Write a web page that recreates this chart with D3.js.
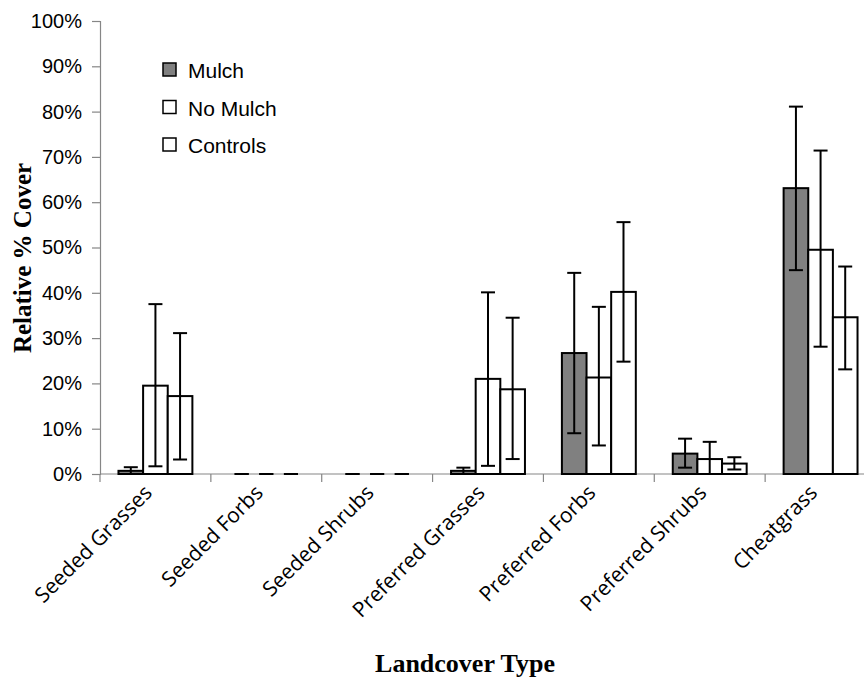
<!DOCTYPE html>
<html>
<head>
<meta charset="utf-8">
<script src="https://cdn.jsdelivr.net/npm/d3@7"></script>
<style>
  body { margin: 0; background: #fff; }
</style>
</head>
<body>
<div id="chart"></div>
<script>
const categories = ["Seeded Grasses", "Seeded Forbs", "Seeded Shrubs", "Preferred Grasses", "Preferred Forbs", "Preferred Shrubs", "Cheatgrass"];
const seriesNames = ["Mulch", "No Mulch", "Controls"];

// relative cover, fraction of 1
const mulch    = [0.007, 0, 0, 0.007, 0.267, 0.045, 0.631];
const noMulch  = [0.195, 0, 0, 0.210, 0.213, 0.033, 0.495];
const controls = [0.172, 0, 0, 0.187, 0.402, 0.023, 0.346];

// error bar ends
const mulchLow     = [0.000, 0, 0, 0.000, 0.090, 0.014, 0.450];
const mulchHigh    = [0.015, 0, 0, 0.014, 0.444, 0.078, 0.811];
const noMulchLow   = [0.017, 0, 0, 0.018, 0.063, 0.000, 0.281];
const noMulchHigh  = [0.375, 0, 0, 0.401, 0.369, 0.071, 0.714];
const controlsLow  = [0.032, 0, 0, 0.033, 0.248, 0.010, 0.231];
const controlsHigh = [0.311, 0, 0, 0.345, 0.556, 0.037, 0.458];

const yTicks = [0, 0.1, 0.2, 0.3, 0.4, 0.5, 0.6, 0.7, 0.8, 0.9, 1];

const fills = { "Mulch": "#808080", "No Mulch": "#ffffff", "Controls": "#ffffff" };

const series = [
  { name: "Mulch", values: mulch, low: mulchLow, high: mulchHigh },
  { name: "No Mulch", values: noMulch, low: noMulchLow, high: noMulchHigh },
  { name: "Controls", values: controls, low: controlsLow, high: controlsHigh }
];

const width = 864, height = 677;
const svg = d3.select("#chart").append("svg")
  .attr("width", width)
  .attr("height", height);

const y = d3.scaleLinear().domain([0, 1]).range([474, 21]);
const x = d3.scaleBand().domain(categories).range([100, 876]);
const xs = d3.scaleBand().domain(seriesNames).range([0, x.bandwidth()]).paddingOuter(0.75);

const axisColor = "#868686";

// y axis
const yAxis = svg.append("g")
  .attr("transform", "translate(100,0)")
  .call(d3.axisLeft(y).tickValues(yTicks).tickFormat(d3.format(".0%")).tickSize(8).tickPadding(10));
yAxis.select(".domain").attr("stroke", axisColor).attr("stroke-width", 1.2);
yAxis.selectAll(".tick line").attr("stroke", axisColor).attr("stroke-width", 1.2);
yAxis.selectAll(".tick text")
  .attr("fill", "#000")
  .style("font-family", "Liberation Sans, Arial, sans-serif")
  .style("font-size", "20px");

// x axis line and boundary ticks
svg.append("line")
  .attr("x1", 100).attr("x2", 876)
  .attr("y1", y(0)).attr("y2", y(0))
  .attr("stroke", axisColor).attr("stroke-width", 1.2);
svg.selectAll(".xtick")
  .data(categories)
  .enter().append("line")
  .attr("class", "xtick")
  .attr("x1", d => x(d)).attr("x2", d => x(d))
  .attr("y1", y(0)).attr("y2", y(0) + 8)
  .attr("stroke", axisColor).attr("stroke-width", 1.2);

// bars
const rows = [];
series.forEach(s => {
  categories.forEach((c, i) => {
    rows.push({ cat: c, name: s.name, v: s.values[i], lo: s.low[i], hi: s.high[i] });
  });
});

svg.append("g").selectAll("rect")
  .data(rows.filter(d => d.v > 0))
  .enter().append("rect")
  .attr("x", d => x(d.cat) + xs(d.name))
  .attr("y", d => y(d.v))
  .attr("width", xs.bandwidth())
  .attr("height", d => y(0) - y(d.v))
  .attr("fill", d => fills[d.name])
  .attr("stroke", "#000")
  .attr("stroke-width", 2);

// error bars
const capW = 7;
const err = svg.append("g").selectAll("g")
  .data(rows)
  .enter().append("g")
  .attr("stroke", "#000")
  .attr("stroke-width", 2);
err.append("line")
  .attr("x1", d => x(d.cat) + xs(d.name) + xs.bandwidth() / 2)
  .attr("x2", d => x(d.cat) + xs(d.name) + xs.bandwidth() / 2)
  .attr("y1", d => y(d.lo)).attr("y2", d => y(d.hi));
err.append("line")
  .attr("x1", d => x(d.cat) + xs(d.name) + xs.bandwidth() / 2 - capW)
  .attr("x2", d => x(d.cat) + xs(d.name) + xs.bandwidth() / 2 + capW)
  .attr("y1", d => y(d.hi)).attr("y2", d => y(d.hi));
err.append("line")
  .attr("x1", d => x(d.cat) + xs(d.name) + xs.bandwidth() / 2 - capW)
  .attr("x2", d => x(d.cat) + xs(d.name) + xs.bandwidth() / 2 + capW)
  .attr("y1", d => y(d.lo)).attr("y2", d => y(d.lo));

// category labels
svg.selectAll(".cat")
  .data(categories)
  .enter().append("text")
  .attr("class", "cat")
  .attr("text-anchor", "end")
  .attr("transform", d => `translate(${x(d) + x.bandwidth() / 2 - 2},494) rotate(-45)`)
  .style("font-family", "Open Sans, sans-serif")
  .style("font-size", "21px")
  .text(d => d);

// axis titles
svg.append("text")
  .attr("text-anchor", "middle")
  .attr("transform", "translate(31,258) rotate(-90)")
  .style("font-family", "Liberation Serif, Times New Roman, serif")
  .style("font-weight", "bold")
  .style("font-size", "25px")
  .text("Relative % Cover");

svg.append("text")
  .attr("text-anchor", "middle")
  .attr("x", 465).attr("y", 672)
  .style("font-family", "Liberation Serif, Times New Roman, serif")
  .style("font-weight", "bold")
  .style("font-size", "26px")
  .text("Landcover Type");

// legend
const legend = svg.append("g")
  .selectAll("g")
  .data(seriesNames)
  .enter().append("g")
  .attr("transform", (d, i) => `translate(163,${63 + i * 37.5})`);
legend.append("rect")
  .attr("width", 13).attr("height", 13)
  .attr("fill", d => fills[d])
  .attr("stroke", "#000").attr("stroke-width", 1.5);
legend.append("text")
  .attr("x", 25).attr("y", 15)
  .style("font-family", "Liberation Sans, Arial, sans-serif")
  .style("font-size", "21px")
  .text(d => d);
</script>
</body>
</html>
